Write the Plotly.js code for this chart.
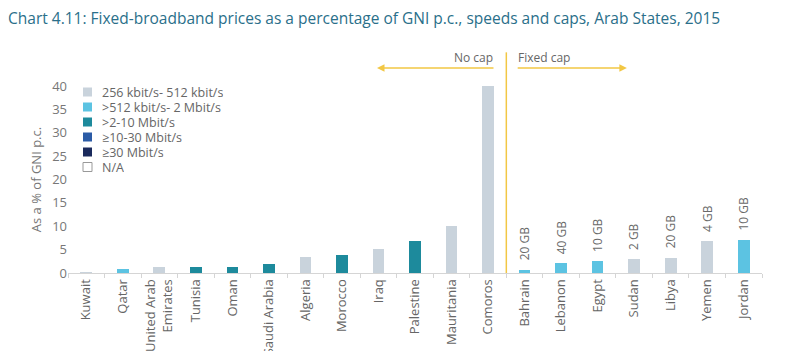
<!DOCTYPE html>
<html>
<head>
<meta charset="utf-8">
<script src="https://cdn.plot.ly/plotly-3.0.1.min.js"></script>
<style>html,body{margin:0;padding:0;background:#fff;}#chart{width:800px;height:351px;}</style>
</head>
<body>
<div id="chart"></div>
<script>
const countries = ["Kuwait","Qatar","United Arab<br>Emirates","Tunisia","Oman","Saudi Arabia","Algeria","Morocco","Iraq","Palestine","Mauritania","Comoros","Bahrain","Lebanon","Egypt","Sudan","Libya","Yemen","Jordan"];
const values = [0.3,0.9,1.2,1.2,1.3,1.9,3.4,3.9,5.2,6.8,10.1,39.9,0.7,2.1,2.5,2.9,3.3,6.8,7.1];
const speedClass = [0,1,0,2,2,2,0,2,0,2,0,0,1,1,1,0,0,0,1];
const speedNames = ["256 kbit/s- 512 kbit/s",">512 kbit/s- 2 Mbit/s",">2-10 Mbit/s","≥10-30 Mbit/s","≥30 Mbit/s","N/A"];
const speedColors = ["#c9d3dc","#5cc3e2","#1d8a9c","#2b5ba6","#1a2a5c","#ffffff"];
const caps = ["","","","","","","","","","","","","20 GB","40 GB","10 GB","2 GB","20 GB","4 GB","10 GB"];
const yTicks = [0,5,10,15,20,25,30,35,40];

const FONT = 'Open Sans';
const traces = speedNames.map((name,k)=>({
  type:'bar', name:name,
  x: countries,
  y: values.map((v,i)=> speedClass[i]===k ? v : null),
  width:0.32,
  marker:{color:speedColors[k], line:{width:0}},
  showlegend:false
}));

// plot area geometry in pixels (for the hand-made legend)
const L = 68, R = 38, T = 86, B = 78, W = 800 - L - R, H = 351 - T - B;
const px = v => (v - L) / W;
const py = v => (351 - B - v) / H;

const annotations = [];
const shapes = [
  {type:'line', xref:'x', yref:'paper', x0:11.5, x1:11.5, y0:0, y1:1.18, line:{color:'#f2c744', width:1.5}}
];
caps.forEach((c,i)=>{
  if(c) annotations.push({x:i, y:values[i], xref:'x', yref:'y', text:c, showarrow:false, textangle:-90,
    yanchor:'bottom', yshift:7, font:{size:12,color:'#6a6a6a',family:FONT}});
});
annotations.push({x:7.96, y:py(68), xref:'x', yref:'paper', ax:11.19, ay:0, axref:'x', ayref:'pixel',
  text:'', showarrow:true, arrowhead:2, arrowsize:1, arrowwidth:1.5, arrowcolor:'#f2c744', standoff:0});
annotations.push({x:14.8, y:py(68), xref:'x', yref:'paper', ax:11.77, ay:0, axref:'x', ayref:'pixel',
  text:'', showarrow:true, arrowhead:2, arrowsize:1, arrowwidth:1.5, arrowcolor:'#f2c744', standoff:0});
annotations.push({x:11.19, y:py(57), xref:'x', yref:'paper', text:'No cap', showarrow:false, xanchor:'right', yanchor:'middle',
  font:{size:12,color:'#666',family:FONT}});
annotations.push({x:11.77, y:py(57), xref:'x', yref:'paper', text:'Fixed cap', showarrow:false, xanchor:'left', yanchor:'middle',
  font:{size:12,color:'#666',family:FONT}});

// legend
speedNames.forEach((name,k)=>{
  const cy = 92 + k*15;
  shapes.push({type:'rect', xref:'paper', yref:'paper', x0:px(83), x1:px(92), y0:py(cy-4.5), y1:py(cy+4.5),
    fillcolor:speedColors[k], line:{color: k===5 ? '#999' : speedColors[k], width: k===5 ? 1 : 0}});
  annotations.push({x:px(101), y:py(cy), xref:'paper', yref:'paper', text:name, showarrow:false,
    xanchor:'left', yanchor:'middle', height:14, borderpad:0, valign:'middle',
    font:{size:12.5,color:'#666',family:FONT}});
});

const layout = {
  width:800, height:351,
  margin:{l:L, r:R, t:T, b:B},
  paper_bgcolor:'#fff', plot_bgcolor:'#fff',
  title:{text:'Chart 4.11: Fixed-broadband prices as a percentage of GNI p.c., speeds and caps, Arab States, 2015',
    x:0.01, xanchor:'left', y:0.948, yanchor:'middle', font:{family:FONT, size:15.5, color:'#2a6f8a'}},
  barmode:'stack',
  showlegend:false,
  xaxis:{type:'category', tickangle:-90, tickson:'boundaries', ticks:'outside', ticklen:4, tickcolor:'#d5d5d5',
    tickfont:{size:13,color:'#666',family:FONT}, showgrid:false, zeroline:false,
    showline:true, linecolor:'#d5d5d5', linewidth:1},
  yaxis:{range:[0,40], tickmode:'array', tickvals:yTicks, showgrid:false, zeroline:false, showline:false,
    tickfont:{size:13,color:'#777',family:FONT},
    title:{text:'As a % of GNI p.c.', font:{size:13,color:'#777',family:FONT}, standoff:7}},
  shapes:shapes,
  annotations:annotations
};
Plotly.newPlot('chart', traces, layout, {displayModeBar:false, staticPlot:true});
</script>
</body>
</html>
